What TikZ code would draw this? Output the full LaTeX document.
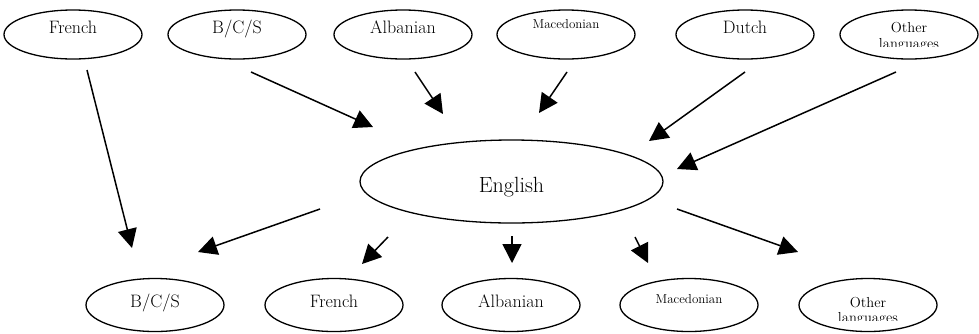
\documentclass[tikz,border=0pt]{standalone}
\usetikzlibrary{shapes.geometric,arrows.meta}
\pgfdeclarelayer{edgelayer}
\pgfdeclarelayer{nodelayer}
\pgfsetlayers{edgelayer,nodelayer,main}
\tikzstyle{edge}=[draw=black, line width=1.5pt, -{Triangle[length=19pt,width=19pt]}]
\tikzstyle{lang}=[ellipse, draw=black, fill=white, line width=1.3pt, minimum width=138pt, minimum height=49pt, inner sep=0pt, font=\fontsize{18}{21}\selectfont]
\tikzstyle{lowlang}=[lang, minimum height=53pt]
\tikzstyle{hub}=[lang, minimum width=303pt, minimum height=83pt, font=\fontsize{22}{26}\selectfont]
\tikzstyle{twoline}=[anchor=base, inner sep=0pt, font=\fontsize{14.5}{16}\selectfont]
\newcommand{\lift}[2]{\raisebox{#1pt}[0pt][0pt]{#2}}
\newcommand{\smallname}{\fontsize{13}{15}\selectfont}

\begin{document}
\begin{tikzpicture}[x=1pt, y=-1pt]
			\useasboundingbox (0,0) rectangle (979,333);
			\begin{pgfonlayer}{nodelayer}
			\node [style=lang] (1) at (73, 34.5) {\lift{1}{French}};
			\node [style=lang] (2) at (237, 34.5) {\lift{1}{B/C/S}};
			\node [style=lang] (3) at (403, 34.5) {\lift{1}{Albanian}};
			\node [style=lang] (4) at (566, 34.5) {\lift{6}{\smallname Macedonian}};
			\node [style=lang] (5) at (745, 34.5) {\lift{1}{Dutch}};
			\node [style=lang] (6) at (909, 34.5) {};
			\node [style=hub] (7) at (511.5, 181.5) {\lift{-11}{English}};
			\node [style=lowlang] (8) at (155, 305) {\lift{-2}{B/C/S}};
			\node [style=lowlang] (9) at (334, 305) {\lift{-2}{French}};
			\node [style=lowlang] (10) at (511, 305) {\lift{-2}{Albanian}};
			\node [style=lowlang] (11) at (689, 305) {\lift{2}{\smallname Macedonian}};
			\node [style=lowlang] (12) at (868, 305) {};
			\end{pgfonlayer}
			% two-line labels, cut off at the bottom
			\begin{scope}
			\clip (841,10) rectangle (977,46.5);
			\node [style=twoline] (6a) at (909, 32) {Other};
			\node [style=twoline] (6b) at (909, 48) {languages};
			\end{scope}
			\begin{scope}
			\clip (799,280) rectangle (937,320);
			\node [style=twoline] (12a) at (868, 307) {Other};
			\node [style=twoline] (12b) at (868, 322) {languages};
			\end{scope}
			\begin{pgfonlayer}{edgelayer}
			\coordinate (a1) at (87, 70);   \coordinate (b1) at (132, 248);
			\coordinate (a2) at (251, 72);  \coordinate (b2) at (373, 127);
			\coordinate (a3) at (415, 72);  \coordinate (b3) at (443, 114);
			\coordinate (a4) at (567, 72);  \coordinate (b4) at (539, 113);
			\coordinate (a5) at (745, 72);  \coordinate (b5) at (649, 141);
			\coordinate (a6) at (896, 72);  \coordinate (b6) at (677, 169);
			\coordinate (a7) at (320, 209); \coordinate (b7) at (198, 252);
			\coordinate (a8) at (388, 237); \coordinate (b8) at (362, 264);
			\coordinate (a9) at (512, 236); \coordinate (b9) at (512, 263);
			\coordinate (a10) at (635, 237); \coordinate (b10) at (648, 263);
			\coordinate (a11) at (677, 209); \coordinate (b11) at (798, 252);
			\draw [style=edge] (a1) to (b1);
			\draw [style=edge] (a2) to (b2);
			\draw [style=edge] (a3) to (b3);
			\draw [style=edge] (a4) to (b4);
			\draw [style=edge] (a5) to (b5);
			\draw [style=edge] (a6) to (b6);
			\draw [style=edge] (a7) to (b7);
			\draw [style=edge] (a8) to (b8);
			\draw [style=edge] (a9) to (b9);
			\draw [style=edge] (a10) to (b10);
			\draw [style=edge] (a11) to (b11);
			\end{pgfonlayer}
\end{tikzpicture}
\end{document}
